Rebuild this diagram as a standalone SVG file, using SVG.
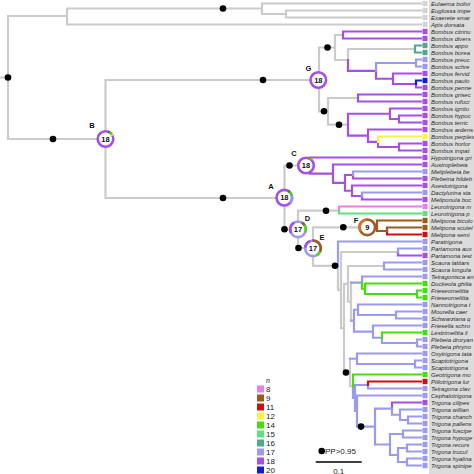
<svg xmlns="http://www.w3.org/2000/svg" width="474" height="474" viewBox="0 0 474 474">
<style>
.cn path{fill:none;stroke-width:2.2;stroke-linecap:square}
.gy{stroke:#cbcbcb}.pu{stroke:#a64ee6}.lb{stroke:#9a9aee}.gr{stroke:#44dd10}.lg{stroke:#5ee07f}
.te{stroke:#52a892}.bl{stroke:#1020d0}.br{stroke:#9c5a1c}.rd{stroke:#cc1111}.ye{stroke:#f5f542}.pk{stroke:#f07ae6}
.fpu{fill:#a64ee6}.flb{fill:#9a9aee}.fgr{fill:#44dd10}.flg{fill:#5ee07f}.fte{fill:#52a892}.fbl{fill:#1020d0}
.fbr{fill:#9c5a1c}.frd{fill:#cc1111}.fye{fill:#f5f542}.fpk{fill:#f07ae6}.fgy{fill:#d4d4d4}
.tip text{font-family:"Liberation Sans",Arial,sans-serif;font-size:6px;font-style:italic;fill:#2a2a2a}
.dot{fill:#000}
.ring{fill:#fff;stroke-width:2.6}
.seg{fill:none;stroke-width:2.6}
.num{font-family:"Liberation Sans",Arial,sans-serif;font-size:7.5px;font-weight:bold;text-anchor:middle;fill:#111}
.nl{font-family:"Liberation Sans",Arial,sans-serif;font-size:7.5px;font-weight:bold;text-anchor:middle;fill:#111}
.leg{font-family:"Liberation Sans",Arial,sans-serif;font-size:8px;fill:#222}
</style>
<rect x="0" y="0" width="474" height="474" fill="#fff"/>
<rect x="429" y="0" width="45" height="474" fill="#dcdcdc"/>
<g id="connectors" class="cn">
<path class="gy" d="M0 77.5H8M8 16V139M8 16H67M67 8.5V24.5M67 8.5H262M262 3.5V14M262 3.5H421M262 14H286M286 10.5V17.5M286 10.5H421M286 17.5H421M67 24.5H421M8 139H105.5M105.5 80V198M105.5 80H318M105.5 198H284.5M319 47.5V111.3M319 47.5H335M335 35V60M335 35H343M335 60H348M348 49V60M348 49H415M319 111.3H328M328 98V124.7M328 98H358M328 124.7H348M284.5 165.5V229.3M284.5 165.5H306M284.5 229.3H298M298 210.7V248M298 210.7H339M298 248H313M313 227.3V265.8M313 227.3H377M313 265.8H338M338 265.8V290.1M338 290.1H341M341 252V328.15M341 252H398M341 328.15H344M344 283.8V372.5M344 283.8H348M348 266V301.6M348 266H384M348 301.6H351M351 282.6V320.7M344 372.5H350M350 358.75V386.25M350 386.25H353"/>
<path class="pu" d="M343 31.5V38.5M343 31.5H421M343 38.5H421M348 60V70.9M348 70.9H376M376 70.9V78.75M376 78.75H393M393 73.5V84M393 73.5H421M393 84H416M416 84V87.5M416 87.5H421M358 94.5V101.5M358 94.5H421M358 101.5H421M348 113.75V135.6M348 113.75H390M390 108.5V119M390 108.5H421M390 119H399M399 115.5V122.5M399 115.5H421M399 122.5H421M348 135.6H368M368 129.5V141.8M368 129.5H421M368 141.8H378M378 141.8V147M378 147H399M399 143.5V150.5M399 143.5H421M399 150.5H421M310 157.5V173.7M310 157.5H421M310 173.7H333M333 164.5V182.9M333 164.5H421M333 182.9H345M345 175V190.75M345 175H353M353 175V178.5M353 178.5H421M345 190.75H352M352 185.5V196M352 185.5H421M352 196H362M362 196V199.5M362 199.5H421M398 252V255.5M398 255.5H421M392 402.5V408.6M392 402.5H421"/>
<path class="lb" d="M376 63V70.9M376 63H416M416 59.5V66.5M416 59.5H421M416 66.5H421M353 171.5V175M353 171.5H421M362 192.5V196M362 192.5H421M338 241.5V265.8M338 241.5H421M398 248.5V252M398 248.5H421M384 262.5V269.5M384 262.5H421M384 269.5H421M351 282.6H362M362 276.5V282.6M362 276.5H421M351 320.7H354M354 309.75V331.6M354 309.75H358M358 304.5V315M358 304.5H421M358 315H396M396 311.5V318.5M396 311.5H421M396 318.5H421M354 331.6H373M373 325.5V337.75M373 325.5H421M373 337.75H382M382 337.75V343M382 343H417M417 339.5V346.5M417 339.5H421M417 346.5H421M350 358.75H357M357 353.5V364M357 353.5H421M357 364H415M415 360.5V367.5M415 360.5H421M415 367.5H421M353 386.25V398M353 398H355M355 385V411M355 385H368M368 385V388.5M368 388.5H421M355 411H357M357 395.5V426.6M357 395.5H421M357 426.6H375M375 408.6V444.5M375 408.6H392M392 408.6V414.75M392 414.75H400M400 409.5V420M400 409.5H421M400 420H408M408 416.5V423.5M408 416.5H421M408 423.5H421M375 444.5H390M390 434V455M390 434H403M403 430.5V437.5M403 430.5H421M403 437.5H421M390 455H398M398 448V462M398 448H407M407 444.5V451.5M407 444.5H421M407 451.5H421M398 462H407M407 458.5V465.5M407 458.5H421M407 465.5H421"/>
<path class="gr" d="M362 282.6V288.75M362 288.75H365M365 283.5V294M365 283.5H421M365 294H417M417 290.5V297.5M417 290.5H421M417 297.5H421M382 332.5V337.75M382 332.5H421M353 374.5V386.25M353 374.5H421"/>
<path class="rd" d="M368 381.5V385M368 381.5H421M387 231V234.5M387 234.5H421"/>
<path class="br" d="M377 220.5V231M377 220.5H421M377 231H387M387 227.5V231M387 227.5H421"/>
<path class="te" d="M415 45.5V52.5M415 45.5H421M415 52.5H421"/>
<path class="bl" d="M416 80.5V84M416 80.5H421"/>
<path class="ye" d="M378 136.5V141.8M378 136.5H421"/>
<path class="pk" d="M339 206.5V210.7M339 206.5H421"/>
<path class="lg" d="M339 210.7V213.5M339 213.5H421"/>
</g>
<g id="pp-dots" class="dot">
<circle cx="8" cy="77.5" r="3.3"/><circle cx="223" cy="8.5" r="3.3"/><circle cx="53" cy="139" r="3.3"/><circle cx="263" cy="80" r="3.3"/>
<circle cx="327.5" cy="47.5" r="3.3"/><circle cx="324" cy="111.3" r="3.3"/><circle cx="339" cy="124.7" r="3.3"/><circle cx="289.5" cy="165.5" r="3.3"/>
<circle cx="223" cy="198" r="3.3"/><circle cx="284.5" cy="229.3" r="3.3"/><circle cx="326" cy="210.7" r="3.3"/><circle cx="298.5" cy="248" r="3.3"/>
<circle cx="343.3" cy="227.3" r="3.3"/><circle cx="335" cy="265.8" r="3.3"/><circle cx="346" cy="372.5" r="3.3"/><circle cx="361" cy="426.6" r="3.3"/>
</g>
<g id="node-B" transform="translate(105.5,139)">
<circle class="ring" r="7.8" stroke="#a64ee6"/>
<circle class="seg" r="7.8" stroke="#9c5a1c" pathLength="100" stroke-dasharray="4 96" transform="rotate(-72)"/>
<circle class="seg" r="7.8" stroke="#44dd10" pathLength="100" stroke-dasharray="6 94" transform="rotate(-58)"/>
<circle class="seg" r="7.8" stroke="#f5f542" pathLength="100" stroke-dasharray="3 97" transform="rotate(-36)"/>
<text class="num" y="2.7">18</text>
</g>
<text id="label-B" class="nl" x="92" y="128">B</text>
<g id="node-G" transform="translate(318.3,80)">
<circle class="ring" r="7.8" stroke="#a64ee6"/>
<text class="num" y="2.7">18</text>
</g>
<text id="label-G" class="nl" x="308.3" y="71">G</text>
<g id="node-C" transform="translate(306,165.5)">
<circle class="ring" r="7.8" stroke="#a64ee6"/>
<circle class="seg" r="7.8" stroke="#c86a20" pathLength="100" stroke-dasharray="4 96" transform="rotate(-75)"/>
<circle class="seg" r="7.8" stroke="#44dd10" pathLength="100" stroke-dasharray="4 96" transform="rotate(-60)"/>
<text class="num" y="2.7">18</text>
</g>
<text id="label-C" class="nl" x="294" y="155.5">C</text>
<g id="node-A" transform="translate(284.3,197.7)">
<circle class="ring" r="7.8" stroke="#a64ee6"/>
<circle class="seg" r="7.8" stroke="#9c5a1c" pathLength="100" stroke-dasharray="4 96" transform="rotate(-60)"/>
<circle class="seg" r="7.8" stroke="#44dd10" pathLength="100" stroke-dasharray="8 92" transform="rotate(-45)"/>
<circle class="seg" r="7.8" stroke="#9a9aee" pathLength="100" stroke-dasharray="16 84" transform="rotate(-15)"/>
<text class="num" y="2.7">18</text>
</g>
<text id="label-A" class="nl" x="271" y="188.5">A</text>
<g id="node-D" transform="translate(298,229.3)">
<circle class="ring" r="7.8" stroke="#9a9aee"/>
<circle class="seg" r="7.8" stroke="#a64ee6" pathLength="100" stroke-dasharray="25 75" transform="rotate(150)"/>
<circle class="seg" r="7.8" stroke="#9c5a1c" pathLength="100" stroke-dasharray="8 92" transform="rotate(-60)"/>
<circle class="seg" r="7.8" stroke="#44dd10" pathLength="100" stroke-dasharray="14 86" transform="rotate(-30)"/>
<text class="num" y="2.7">17</text>
</g>
<text id="label-D" class="nl" x="307.5" y="221">D</text>
<g id="node-E" transform="translate(313,248.3)">
<circle class="ring" r="7.8" stroke="#9a9aee"/>
<circle class="seg" r="7.8" stroke="#a64ee6" pathLength="100" stroke-dasharray="18 82" transform="rotate(185)"/>
<circle class="seg" r="7.8" stroke="#9c5a1c" pathLength="100" stroke-dasharray="34 66" transform="rotate(-95)"/>
<circle class="seg" r="7.8" stroke="#44dd10" pathLength="100" stroke-dasharray="10 90" transform="rotate(28)"/>
<text class="num" y="2.7">17</text>
</g>
<text id="label-E" class="nl" x="322" y="239.5">E</text>
<g id="node-F" transform="translate(367.3,227.3)">
<circle class="ring" r="7.8" stroke="#a65a1e"/>
<circle class="seg" r="7.8" stroke="#d8722c" pathLength="100" stroke-dasharray="30 70" transform="rotate(150)"/>
<text class="num" y="2.7">9</text>
</g>
<text id="label-F" class="nl" x="356" y="222.5">F</text>
<g id="tips" class="tip">
<g id="t0"><rect class="fgy" x="422.5" y="0.8" width="5" height="5.4"/><text x="431" y="5.6">Eulaema bolivi</text></g>
<g id="t1"><rect class="fgy" x="422.5" y="7.8" width="5" height="5.4"/><text x="431" y="12.6">Euglossa impe</text></g>
<g id="t2"><rect class="fgy" x="422.5" y="14.8" width="5" height="5.4"/><text x="431" y="19.6">Exaerete smar</text></g>
<g id="t3"><rect class="fgy" x="422.5" y="21.8" width="5" height="5.4"/><text x="431" y="26.6">Apis dorsata</text></g>
<g id="t4"><rect class="fpu" x="422.5" y="28.8" width="5" height="5.4"/><text x="431" y="33.6">Bombus citrinu</text></g>
<g id="t5"><rect class="fpu" x="422.5" y="35.8" width="5" height="5.4"/><text x="431" y="40.6">Bombus divers</text></g>
<g id="t6"><rect class="fte" x="422.5" y="42.8" width="5" height="5.4"/><text x="431" y="47.6">Bombus appo</text></g>
<g id="t7"><rect class="fte" x="422.5" y="49.8" width="5" height="5.4"/><text x="431" y="54.6">Bombus borea</text></g>
<g id="t8"><rect class="flb" x="422.5" y="56.8" width="5" height="5.4"/><text x="431" y="61.6">Bombus preuc</text></g>
<g id="t9"><rect class="flb" x="422.5" y="63.8" width="5" height="5.4"/><text x="431" y="68.6">Bombus schre</text></g>
<g id="t10"><rect class="fpu" x="422.5" y="70.8" width="5" height="5.4"/><text x="431" y="75.6">Bombus fervid</text></g>
<g id="t11"><rect class="fbl" x="422.5" y="77.8" width="5" height="5.4"/><text x="431" y="82.6">Bombus paulo</text></g>
<g id="t12"><rect class="fpu" x="422.5" y="84.8" width="5" height="5.4"/><text x="431" y="89.6">Bombus penne</text></g>
<g id="t13"><rect class="fpu" x="422.5" y="91.8" width="5" height="5.4"/><text x="431" y="96.6">Bombus grisec</text></g>
<g id="t14"><rect class="fpu" x="422.5" y="98.8" width="5" height="5.4"/><text x="431" y="103.6">Bombus rufoci</text></g>
<g id="t15"><rect class="fpu" x="422.5" y="105.8" width="5" height="5.4"/><text x="431" y="110.6">Bombus ignitu</text></g>
<g id="t16"><rect class="fpu" x="422.5" y="112.8" width="5" height="5.4"/><text x="431" y="117.6">Bombus hypoc</text></g>
<g id="t17"><rect class="fpu" x="422.5" y="119.8" width="5" height="5.4"/><text x="431" y="124.6">Bombus terric</text></g>
<g id="t18"><rect class="fpu" x="422.5" y="126.8" width="5" height="5.4"/><text x="431" y="131.6">Bombus ardens</text></g>
<g id="t19"><rect class="fye" x="422.5" y="133.8" width="5" height="5.4"/><text x="431" y="138.6">Bombus perplex</text></g>
<g id="t20"><rect class="fpu" x="422.5" y="140.8" width="5" height="5.4"/><text x="431" y="145.6">Bombus hortor</text></g>
<g id="t21"><rect class="fpu" x="422.5" y="147.8" width="5" height="5.4"/><text x="431" y="152.6">Bombus impat</text></g>
<g id="t22"><rect class="fpu" x="422.5" y="154.8" width="5" height="5.4"/><text x="431" y="159.6">Hypotrigona gri</text></g>
<g id="t23"><rect class="fpu" x="422.5" y="161.8" width="5" height="5.4"/><text x="431" y="166.6">Austroplebeia</text></g>
<g id="t24"><rect class="flb" x="422.5" y="168.8" width="5" height="5.4"/><text x="431" y="173.6">Meliplebeia be</text></g>
<g id="t25"><rect class="fpu" x="422.5" y="175.8" width="5" height="5.4"/><text x="431" y="180.6">Plebeina hildeb</text></g>
<g id="t26"><rect class="fpu" x="422.5" y="182.8" width="5" height="5.4"/><text x="431" y="187.6">Axestotrigona</text></g>
<g id="t27"><rect class="flb" x="422.5" y="189.8" width="5" height="5.4"/><text x="431" y="194.6">Dactylurina sta</text></g>
<g id="t28"><rect class="fpu" x="422.5" y="196.8" width="5" height="5.4"/><text x="431" y="201.6">Meliponula boc</text></g>
<g id="t29"><rect class="fpk" x="422.5" y="203.8" width="5" height="5.4"/><text x="431" y="208.6">Leurotrigona m</text></g>
<g id="t30"><rect class="flg" x="422.5" y="210.8" width="5" height="5.4"/><text x="431" y="215.6">Leurotrigona p</text></g>
<g id="t31"><rect class="fbr" x="422.5" y="217.8" width="5" height="5.4"/><text x="431" y="222.6">Melipona bicolo</text></g>
<g id="t32"><rect class="fbr" x="422.5" y="224.8" width="5" height="5.4"/><text x="431" y="229.6">Melipona scutel</text></g>
<g id="t33"><rect class="frd" x="422.5" y="231.8" width="5" height="5.4"/><text x="431" y="236.6">Melipona semi</text></g>
<g id="t34"><rect class="flb" x="422.5" y="238.8" width="5" height="5.4"/><text x="431" y="243.6">Paratrigona</text></g>
<g id="t35"><rect class="flb" x="422.5" y="245.8" width="5" height="5.4"/><text x="431" y="250.6">Partamona aux</text></g>
<g id="t36"><rect class="fpu" x="422.5" y="252.8" width="5" height="5.4"/><text x="431" y="257.6">Partamona test</text></g>
<g id="t37"><rect class="flb" x="422.5" y="259.8" width="5" height="5.4"/><text x="431" y="264.6">Scaura latitars</text></g>
<g id="t38"><rect class="flb" x="422.5" y="266.8" width="5" height="5.4"/><text x="431" y="271.6">Scaura longula</text></g>
<g id="t39"><rect class="flb" x="422.5" y="273.8" width="5" height="5.4"/><text x="431" y="278.6">Tetragonisca an</text></g>
<g id="t40"><rect class="fgr" x="422.5" y="280.8" width="5" height="5.4"/><text x="431" y="285.6">Duckeola ghilia</text></g>
<g id="t41"><rect class="fgr" x="422.5" y="287.8" width="5" height="5.4"/><text x="431" y="292.6">Frieseomelitta</text></g>
<g id="t42"><rect class="fgr" x="422.5" y="294.8" width="5" height="5.4"/><text x="431" y="299.6">Frieseomelitta</text></g>
<g id="t43"><rect class="flb" x="422.5" y="301.8" width="5" height="5.4"/><text x="431" y="306.6">Nannotrigona t</text></g>
<g id="t44"><rect class="flb" x="422.5" y="308.8" width="5" height="5.4"/><text x="431" y="313.6">Mourella caer</text></g>
<g id="t45"><rect class="flb" x="422.5" y="315.8" width="5" height="5.4"/><text x="431" y="320.6">Schwarziana q</text></g>
<g id="t46"><rect class="flb" x="422.5" y="322.8" width="5" height="5.4"/><text x="431" y="327.6">Friesella schro</text></g>
<g id="t47"><rect class="fgr" x="422.5" y="329.8" width="5" height="5.4"/><text x="431" y="334.6">Lestrimelitta li</text></g>
<g id="t48"><rect class="flb" x="422.5" y="336.8" width="5" height="5.4"/><text x="431" y="341.6">Plebeia droryan</text></g>
<g id="t49"><rect class="flb" x="422.5" y="343.8" width="5" height="5.4"/><text x="431" y="348.6">Plebeia phryno</text></g>
<g id="t50"><rect class="flb" x="422.5" y="350.8" width="5" height="5.4"/><text x="431" y="355.6">Oxytrigona tata</text></g>
<g id="t51"><rect class="flb" x="422.5" y="357.8" width="5" height="5.4"/><text x="431" y="362.6">Scaptotrigona</text></g>
<g id="t52"><rect class="flb" x="422.5" y="364.8" width="5" height="5.4"/><text x="431" y="369.6">Scaptotrigona</text></g>
<g id="t53"><rect class="fgr" x="422.5" y="371.8" width="5" height="5.4"/><text x="431" y="376.6">Geotrigona mo</text></g>
<g id="t54"><rect class="frd" x="422.5" y="378.8" width="5" height="5.4"/><text x="431" y="383.6">Ptilotrigona lur</text></g>
<g id="t55"><rect class="flb" x="422.5" y="385.8" width="5" height="5.4"/><text x="431" y="390.6">Tetragona clav</text></g>
<g id="t56"><rect class="flb" x="422.5" y="392.8" width="5" height="5.4"/><text x="431" y="397.6">Cephalotrigona</text></g>
<g id="t57"><rect class="fpu" x="422.5" y="399.8" width="5" height="5.4"/><text x="431" y="404.6">Trigona cilipes</text></g>
<g id="t58"><rect class="flb" x="422.5" y="406.8" width="5" height="5.4"/><text x="431" y="411.6">Trigona willian</text></g>
<g id="t59"><rect class="flb" x="422.5" y="413.8" width="5" height="5.4"/><text x="431" y="418.6">Trigona chanch</text></g>
<g id="t60"><rect class="flb" x="422.5" y="420.8" width="5" height="5.4"/><text x="431" y="425.6">Trigona pallens</text></g>
<g id="t61"><rect class="flb" x="422.5" y="427.8" width="5" height="5.4"/><text x="431" y="432.6">Trigona fuscipe</text></g>
<g id="t62"><rect class="flb" x="422.5" y="434.8" width="5" height="5.4"/><text x="431" y="439.6">Trigona hypoge</text></g>
<g id="t63"><rect class="flb" x="422.5" y="441.8" width="5" height="5.4"/><text x="431" y="446.6">Trigona recurs</text></g>
<g id="t64"><rect class="flb" x="422.5" y="448.8" width="5" height="5.4"/><text x="431" y="453.6">Trigona trucul</text></g>
<g id="t65"><rect class="flb" x="422.5" y="455.8" width="5" height="5.4"/><text x="431" y="460.6">Trigona hyalina</text></g>
<g id="t66"><rect class="flb" x="422.5" y="462.8" width="5" height="5.4"/><text x="431" y="467.6">Trigona spinipe</text></g>
</g>
<g id="legend" class="leg">
<text x="266" y="383" font-style="italic" font-size="7">n</text>
<rect class="fpk" x="257" y="385.5" width="7" height="7"/><text x="266" y="392">8</text>
<rect class="fbr" x="257" y="394.5" width="7" height="7"/><text x="266" y="401">9</text>
<rect class="frd" x="257" y="403.5" width="7" height="7"/><text x="266" y="410">11</text>
<rect class="fye" x="257" y="412.5" width="7" height="7"/><text x="266" y="419">12</text>
<rect class="fgr" x="257" y="421.5" width="7" height="7"/><text x="266" y="428">14</text>
<rect class="flg" x="257" y="430.5" width="7" height="7"/><text x="266" y="437">15</text>
<rect class="fte" x="257" y="439.5" width="7" height="7"/><text x="266" y="446">16</text>
<rect class="flb" x="257" y="448.5" width="7" height="7"/><text x="266" y="455">17</text>
<rect class="fpu" x="257" y="457.5" width="7" height="7"/><text x="266" y="464">18</text>
<rect class="fbl" x="257" y="466.5" width="7" height="7"/><text x="266" y="473">20</text>
</g>
<g id="pp-key">
<circle class="dot" cx="321.7" cy="451" r="3.3"/>
<text class="leg" x="325" y="454">PP&gt;0.95</text>
</g>
<g id="scale-bar">
<path d="M315.7 462H361.7" stroke="#000" stroke-width="1.4"/>
<text class="leg" x="338.7" y="473.5" font-size="6.5" text-anchor="middle">0.1</text>
</g>
</svg>
